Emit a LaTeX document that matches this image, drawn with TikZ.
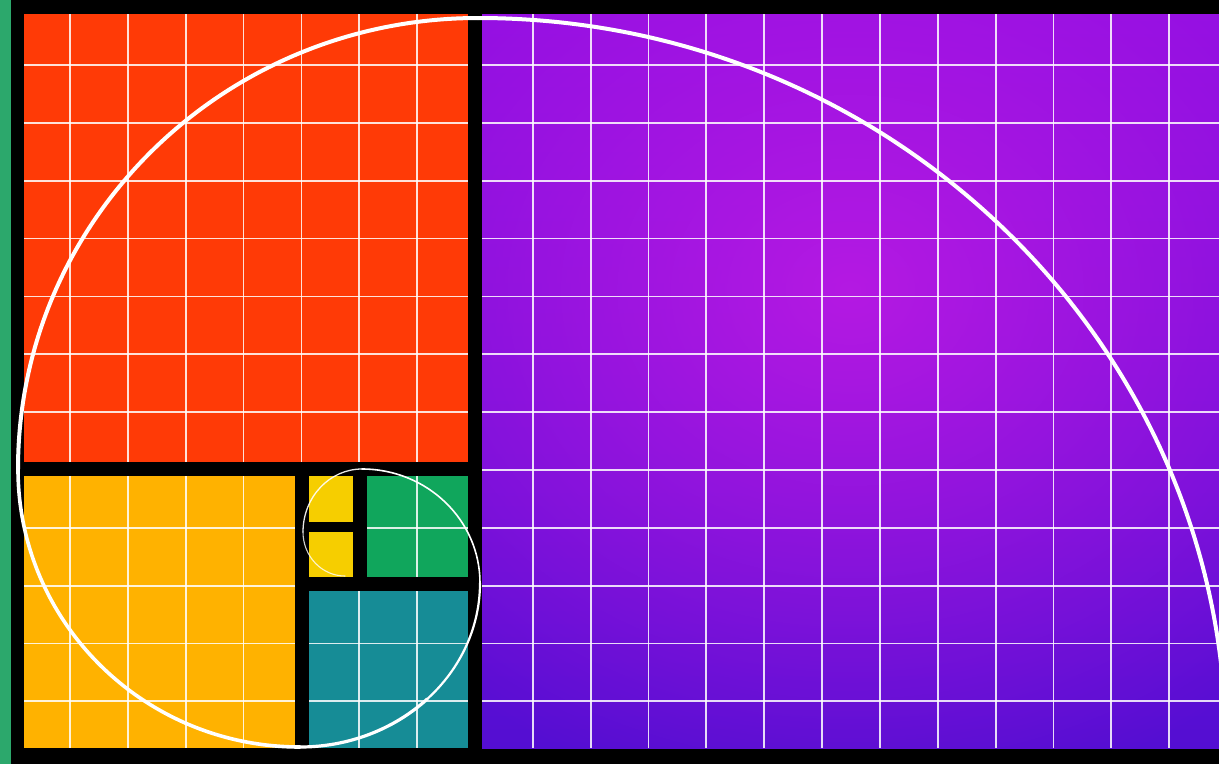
\documentclass[tikz,border=0pt]{standalone}
\usetikzlibrary{fadings}
\definecolor{bgreen}{RGB}{44,168,108}
\definecolor{sqred}{RGB}{255,58,6}
\definecolor{sqorange}{RGB}{255,178,0}
\definecolor{sqyellow}{RGB}{246,206,0}
\definecolor{sqgreen}{RGB}{16,166,92}
\definecolor{sqteal}{RGB}{22,140,150}
\definecolor{ptop}{RGB}{140,14,226}
\definecolor{pbot}{RGB}{84,14,210}
\definecolor{pglow}{RGB}{196,28,228}
\tikzfading[name=glowfade, inner color=transparent!0, outer color=transparent!100]
\begin{document}
\begin{tikzpicture}[x=1pt,y=-1pt,
  gridline/.style={white, opacity=0.85, line width=1.8pt},
  spiral/.style={white, line cap=round},
  band/.style={black}]
\useasboundingbox (0,0) rectangle (1219,764);
\fill[black] (0,0) rectangle (1219,764);
\fill[bgreen] (0,0) rectangle (11,764);
% squares
\fill[sqred] (24,14) rectangle (468,462);
\fill[sqorange] (24,476) rectangle (295,748);
\fill[sqyellow] (309,476) rectangle (353,577);
\fill[sqgreen] (367,476) rectangle (468,577);
\fill[sqteal] (309,591) rectangle (468,748);
\shade[top color=ptop,bottom color=pbot] (482,14) rectangle (1219,748);
\begin{scope}
  \clip (482,14) rectangle (1219,748);
  \fill[pglow, opacity=0.8, path fading=glowfade] (850,290) ellipse[x radius=620, y radius=520];
\end{scope}
% grid
\begin{scope}
  \clip (24,14) rectangle (1219,748);
  \foreach \k in {0,...,19} \draw[gridline] ({70+57.85*\k},14) -- ({70+57.85*\k},748);
  \foreach \k in {0,...,11} \draw[gridline] (24,{65+57.85*\k}) -- (1219,{65+57.85*\k});
\end{scope}
% black bands
\fill[band] (468,14) rectangle (482,748);
\fill[band] (24,462) rectangle (468,476);
\fill[band] (295,476) rectangle (309,748);
\fill[band] (309,577) rectangle (468,591);
\fill[band] (353,476) rectangle (367,577);
\fill[band] (309,522) rectangle (353,532);
% spiral
\draw[spiral, line width=4pt] (1226,748) arc[start angle=0, end angle=-90, x radius=748, y radius=730];
\draw[spiral, line width=4pt] (478,18) arc[start angle=-90, end angle=-180, x radius=460, y radius=451];
\draw[spiral, line width=3.6pt] (18,469) arc[start angle=180, end angle=90, x radius=282, y radius=278];
\draw[spiral, line width=3.2pt] (300,747) arc[start angle=90, end angle=45, x radius=180, y radius=164];
\draw[spiral, line width=2.2pt] (427.28,698.97) arc[start angle=45, end angle=0, x radius=180, y radius=164];
\draw[spiral, line width=1.6pt] (480,583) arc[start angle=0, end angle=-90, x radius=118, y radius=114];
\draw[spiral, line width=1.3pt, opacity=0.9] (362,469) arc[start angle=-90, end angle=-180, x radius=59, y radius=63];
\draw[spiral, line width=1.1pt, opacity=0.8] (303,532) arc[start angle=180, end angle=90, x radius=42, y radius=44];
\end{tikzpicture}
\end{document}
